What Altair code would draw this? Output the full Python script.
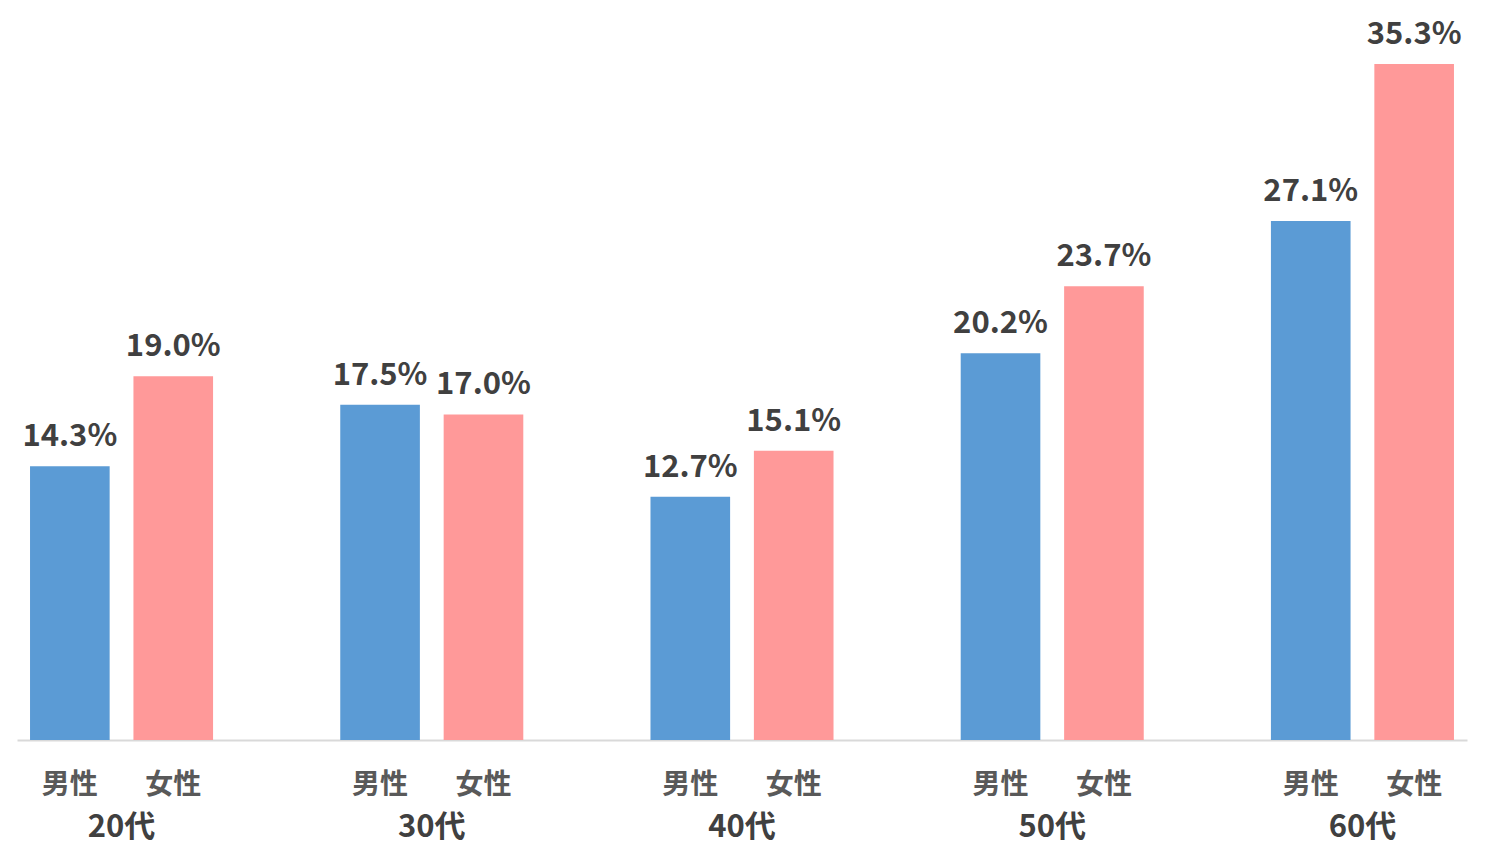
import altair as alt
import pandas as pd

groups = ["20代", "30代", "40代", "50代", "60代"]
genders = ["男性", "女性"]
male = [14.3, 17.5, 12.7, 20.2, 27.1]
female = [19.0, 17.0, 15.1, 23.7, 35.3]

rows = []
for g, m, f in zip(groups, male, female):
    rows.append({"group": g, "gender": "男性", "value": m})
    rows.append({"group": g, "gender": "女性", "value": f})
df = pd.DataFrame(rows)

FONT = "Noto Sans CJK JP"

x = alt.X("group:N", sort=groups, title=None,
          scale=alt.Scale(paddingInner=0.41, paddingOuter=0.042),
          axis=alt.Axis(labelAngle=0, ticks=False, domainColor="#D9D9D9", domainWidth=2,
                        labelFont=FONT, labelFontSize=31, labelFontWeight="bold",
                        labelColor="#404040", labelPadding=87, labelBaseline="middle"))
xo = alt.XOffset("gender:N", sort=genders,
                 scale=alt.Scale(paddingInner=0.23, paddingOuter=0))
y = alt.Y("value:Q", scale=alt.Scale(domain=[0, 35.3], nice=False), axis=None)

base = alt.Chart(df)

bars = base.mark_bar().encode(
    x=x, xOffset=xo, y=y,
    color=alt.Color("gender:N", sort=genders, legend=None,
                    scale=alt.Scale(domain=genders, range=["#5B9BD5", "#FF9999"])),
)

labels = base.transform_calculate(
    label="format(datum.value, '.1f') + '%'"
).mark_text(font=FONT, fontSize=31, fontWeight="bold", color="#404040",
            baseline="alphabetic", dy=-20).encode(
    x=x, xOffset=xo, y=y, text="label:N"
)

gender_labels = base.mark_text(font=FONT, fontSize=28, fontWeight="bold", color="#595959",
                               baseline="middle").encode(
    x=x, xOffset=xo, y=alt.value(722), text="gender:N"
)

chart = alt.layer(bars, labels, gender_labels).properties(
    width=1450, height=676,
    autosize=alt.AutoSizeParams(type="none"),
    padding={"left": 9, "top": 56, "right": 4, "bottom": 105},
).configure(background="white").configure_view(stroke="transparent", strokeWidth=0)

chart.save("out.html", embed_options={"renderer": "svg", "actions": False})
